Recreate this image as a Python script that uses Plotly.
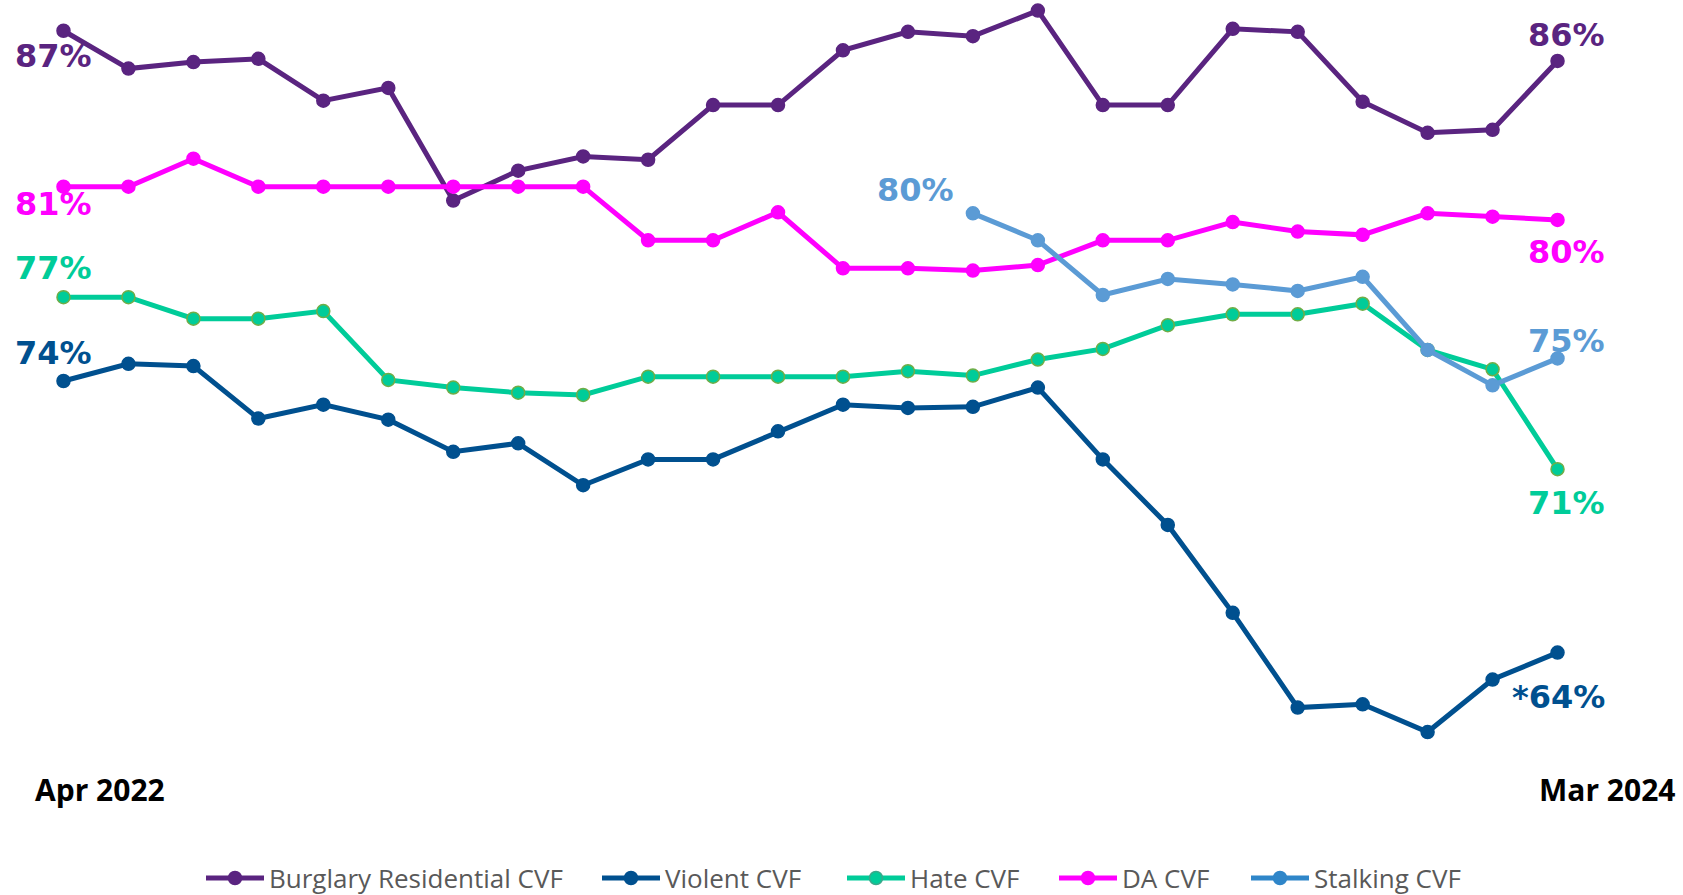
import plotly.graph_objects as go

months = ["Apr 2022", "May 2022", "Jun 2022", "Jul 2022", "Aug 2022", "Sep 2022",
          "Oct 2022", "Nov 2022", "Dec 2022", "Jan 2023", "Feb 2023", "Mar 2023",
          "Apr 2023", "May 2023", "Jun 2023", "Jul 2023", "Aug 2023", "Sep 2023",
          "Oct 2023", "Nov 2023", "Dec 2023", "Jan 2024", "Feb 2024", "Mar 2024"]

burglary = [86.87, 85.48, 85.72, 85.84, 84.30, 84.77, 80.63, 81.73, 82.25, 82.13, 84.14, 84.14,
            86.15, 86.83, 86.67, 87.61, 84.14, 84.14, 86.94, 86.83, 84.26, 83.12, 83.23, 85.76]
violent = [74.00, 74.63, 74.55, 72.62, 73.13, 72.58, 71.40, 71.71, 70.17, 71.12, 71.12, 72.15,
           73.13, 73.01, 73.05, 73.76, 71.12, 68.71, 65.48, 62.00, 62.12, 61.10, 63.03, 64.02]
hate = [77.08, 77.08, 76.29, 76.29, 76.57, 74.04, 73.76, 73.57, 73.49, 74.16, 74.16, 74.16,
        74.16, 74.36, 74.20, 74.79, 75.18, 76.05, 76.45, 76.45, 76.84, 75.14, 74.43, 70.76]
da = [81.14, 81.14, 82.17, 81.14, 81.14, 81.14, 81.14, 81.14, 81.14, 79.17, 79.17, 80.20,
      78.14, 78.14, 78.06, 78.26, 79.17, 79.17, 79.84, 79.49, 79.37, 80.16, 80.04, 79.92]
stalking = [None] * 14 + [80.16, 79.17, 77.16, 77.75, 77.55, 77.31, 77.83, 75.14, 73.84, 74.83]

series_names = ["Burglary Residential CVF", "Violent CVF", "Hate CVF", "DA CVF", "Stalking CVF"]
series_values = [burglary, violent, hate, da, stalking]
series_colors = ["#5a2480", "#00508f", "#00cc99", "#ff00ff", "#5b9bd5"]
marker_edge = ["#5a2480", "#00508f", "#70ad47", "#ff00ff", "#5b9bd5"]
legend_colors = ["#5a2480", "#00508f", "#00cc99", "#ff00ff", "#2f86c9"]
legend_edge = ["#5a2480", "#00508f", "#3aa88a", "#ff00ff", "#2f86c9"]

start_labels = ["87%", "74%", "77%", "81%", "80%"]
end_labels = ["86%", "*64%", "71%", "80%", "75%"]

x = list(range(len(months)))

# figure geometry (pixels)
W, H = 1683, 895
L, R, T, B = 31, 93, 0, 133
PW, PH = W - L - R, H - T - B


def px_to_paper_x(px):
    return (px - L) / PW


def px_to_paper_y(py):
    return (T + PH - py) / PH


fig = go.Figure()
for name, vals, col, edge in zip(series_names, series_values, series_colors, marker_edge):
    fig.add_trace(go.Scatter(
        x=x, y=vals, name=name, mode="lines+markers",
        line=dict(color=col, width=5),
        marker=dict(size=13, color=col, line=dict(color=edge, width=1.5)),
        cliponaxis=False, connectgaps=False, showlegend=False,
    ))

label_font = "DejaVu Sans"
start_pos = [(-50, -25, "left"), (-50, 28, "left"), (-50, 29, "left"), (-50, -17, "left"), (-57, 23, "center")]
end_pos = [(49, 26), (49, -44), (49, -34), (49, -32), (49, 17)]

for i, vals in enumerate(series_values):
    first = next(k for k, v in enumerate(vals) if v is not None)
    xs, ys, xa = start_pos[i]
    fig.add_annotation(x=first, y=vals[first], text="<b>" + start_labels[i] + "</b>",
                       showarrow=False, xanchor=xa, yanchor="middle", xshift=xs, yshift=ys,
                       font=dict(family=label_font, size=32, color=series_colors[i]))
    xs, ys = end_pos[i]
    fig.add_annotation(x=x[-1], y=vals[-1], text="<b>" + end_labels[i] + "</b>",
                       showarrow=False, xanchor="right", yanchor="middle", xshift=xs, yshift=ys,
                       font=dict(family=label_font, size=32, color=series_colors[i]))

# period labels at the two ends of the time axis
fig.add_annotation(xref="paper", yref="paper", x=px_to_paper_x(33), y=px_to_paper_y(789),
                   text="<b>" + months[0] + "</b>", showarrow=False, xanchor="left", yanchor="middle",
                   font=dict(family="Open Sans", size=30, color="#000000"))
fig.add_annotation(xref="paper", yref="paper", x=px_to_paper_x(1677), y=px_to_paper_y(789),
                   text="<b>" + months[-1] + "</b>", showarrow=False, xanchor="right", yanchor="middle",
                   font=dict(family="Open Sans", size=30, color="#000000"))

# legend drawn as shapes + text (long line keys with a marker in the middle)
legend_starts = [206, 602, 847, 1059, 1251]
key_len = 58
ly = px_to_paper_y(878)
for i, name in enumerate(series_names):
    x0 = legend_starts[i]
    fig.add_shape(type="line", xref="paper", yref="paper",
                  x0=px_to_paper_x(x0), x1=px_to_paper_x(x0 + key_len), y0=ly, y1=ly,
                  line=dict(color=legend_colors[i], width=5))
    fig.add_shape(type="circle", xref="paper", yref="paper", xsizemode="pixel", ysizemode="pixel",
                  xanchor=px_to_paper_x(x0 + key_len / 2), yanchor=ly,
                  x0=-6.5, x1=6.5, y0=-6.5, y1=6.5,
                  fillcolor=legend_colors[i], line=dict(color=legend_edge[i], width=1.5))
    fig.add_annotation(xref="paper", yref="paper", x=px_to_paper_x(x0 + key_len + 3), y=ly,
                       text=name, showarrow=False, xanchor="left", yanchor="middle",
                       font=dict(family="Open Sans", size=26, color="#595959"))

fig.update_layout(
    width=W, height=H,
    margin=dict(l=L, r=R, t=T, b=B),
    paper_bgcolor="white", plot_bgcolor="white",
    xaxis=dict(range=[-0.5, 23.5], visible=False, showgrid=False, zeroline=False),
    yaxis=dict(range=[60, 88], visible=False, showgrid=False, zeroline=False),
    showlegend=False,
)

fig.write_html("out.html", config={"displayModeBar": False},
               post_script="document.body.style.margin='0px';")
